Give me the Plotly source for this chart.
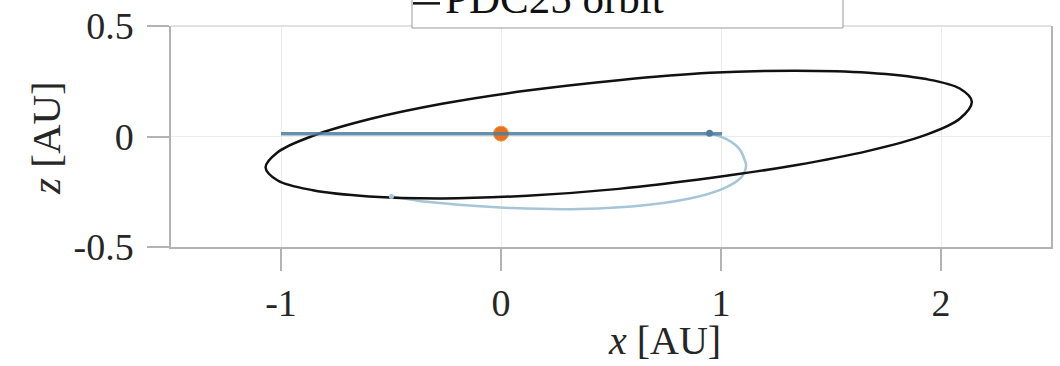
import plotly.graph_objects as go

# ---------------- data ----------------
# PDC25 orbit projected on the x-z plane [AU]
orbit_x = [2.140, 2.085, 1.925, 1.670, 1.338, 0.950, 0.535, 0.120, -0.268, -0.600,
           -0.855, -1.015, -1.070, -1.015, -0.855, -0.600, -0.268, 0.120, 0.535,
           0.950, 1.338, 1.670, 1.925, 2.085, 2.140]
orbit_z = [0.158, 0.217, 0.261, 0.289, 0.298, 0.288, 0.255, 0.208, 0.148, 0.078,
           0.003, -0.071, -0.140, -0.199, -0.243, -0.271, -0.280, -0.268, -0.237,
           -0.188, -0.130, -0.065, 0.005, 0.080, 0.158]

# Earth orbit (edge-on)
earth_x = [-1.000, 1.005]
earth_z = [0.013, 0.013]

# Transfer trajectory (light blue)
traj_x = [0.948, 1.025, 1.084, 1.111, 1.114, 1.093, 1.025, 0.889, 0.661, 0.357,
          0.052, -0.175, -0.370, -0.498]
traj_z = [0.015, -0.012, -0.057, -0.116, -0.133, -0.184, -0.229, -0.274, -0.310,
          -0.328, -0.324, -0.310, -0.292, -0.271]

# Markers
earth_pos = (0.948, 0.015)
arrival_pos = (-0.498, -0.271)
sun_pos = (0.0, 0.013)

x_ticks = [-1, 0, 1, 2]
x_ticktext = ["-1", "0", "1", "2"]
z_ticks = [-0.5, 0, 0.5]
z_ticktext = ["-0.5", "0", "0.5"]

legend_label = "PDC25 orbit"

# ---------------- figure ----------------
FONT = "Liberation Serif"
AXCOL = "#b3b3b3"
TXT = "#262626"

fig = go.Figure()

fig.add_trace(go.Scatter(x=traj_x, y=traj_z, mode="lines",
                         line=dict(color="#a6c6d8", width=2.5, shape="spline"),
                         showlegend=False))
fig.add_trace(go.Scatter(x=orbit_x, y=orbit_z, mode="lines",
                         line=dict(color="#111111", width=2.5, shape="spline"),
                         name=legend_label, showlegend=False))
fig.add_trace(go.Scatter(x=[sun_pos[0]], y=[sun_pos[1]], mode="markers",
                         marker=dict(color="#e8731c", size=15,
                                     line=dict(color="#ef9a55", width=1)),
                         showlegend=False))
fig.add_trace(go.Scatter(x=earth_x, y=earth_z, mode="lines",
                         line=dict(color="rgba(78,125,158,0.85)", width=3.5),
                         showlegend=False))
fig.add_trace(go.Scatter(x=[earth_pos[0]], y=[earth_pos[1]], mode="markers",
                         marker=dict(color="#4f7d9c", size=7),
                         showlegend=False))
fig.add_trace(go.Scatter(x=[arrival_pos[0]], y=[arrival_pos[1]], mode="markers",
                         marker=dict(color="#a6c6d8", size=5),
                         showlegend=False))

fig.update_layout(
    width=1060, height=366,
    margin=dict(l=171, r=9, t=26, b=119),
    paper_bgcolor="white", plot_bgcolor="white",
    font=dict(family=FONT, size=38, color=TXT),
    showlegend=False,
)

fig.update_xaxes(range=[-1.5, 2.5], tickvals=x_ticks, ticktext=x_ticktext,
                 showgrid=True, gridcolor="#ececec", gridwidth=1,
                 zeroline=False, showline=True, linecolor=AXCOL, linewidth=1.5,
                 ticks="outside", ticklen=22, tickcolor=AXCOL, tickwidth=1.5,
                 ticklabelstandoff=0, mirror=False, automargin=False,
                 tickfont=dict(family=FONT, size=38, color=TXT))
fig.update_yaxes(range=[-0.5, 0.5], tickvals=z_ticks, ticktext=z_ticktext,
                 showgrid=True, gridcolor="#ececec", gridwidth=1,
                 zeroline=False, showline=True, linecolor=AXCOL, linewidth=1.5,
                 ticks="outside", ticklen=22, tickcolor=AXCOL, tickwidth=1.5,
                 ticklabelstandoff=6, mirror=True, automargin=False,
                 tickfont=dict(family=FONT, size=38, color=TXT))

# top border of the box (lighter)
fig.add_shape(type="line", xref="paper", yref="paper", x0=0, x1=1, y0=1, y1=1,
              line=dict(color="#e2e2e2", width=2), layer="above")

# legend box (cut off at top of the page, as in the original)
fig.add_shape(type="rect", xref="paper", yref="paper",
              x0=(412 - 171) / 880, x1=(843 - 171) / 880,
              y0=(247.3 - 27.7) / 221.6, y1=1.3,
              line=dict(color="#9a9a9a", width=1), fillcolor="white", layer="above")
fig.add_shape(type="line", xref="paper", yref="paper",
              x0=(413 - 171) / 880, x1=(440 - 171) / 880,
              y0=(247.3 - 3) / 221.6, y1=(247.3 - 3) / 221.6,
              line=dict(color="#111111", width=2.5), layer="above")
fig.add_annotation(text=legend_label, xref="paper", yref="paper",
                   x=(443 - 171) / 880, y=(247.3 - 24) / 221.6,
                   xanchor="left", yanchor="bottom", showarrow=False,
                   font=dict(family=FONT, size=43, color="#111111"))

# axis titles
fig.add_annotation(text="<i>x</i> [AU]", xref="paper", yref="paper",
                   x=(664 - 171) / 880, y=(247.3 - 341) / 221.6,
                   xanchor="center", yanchor="middle", showarrow=False,
                   font=dict(family=FONT, size=40, color=TXT))
fig.add_annotation(text="<i>z</i> [AU]", xref="paper", yref="paper",
                   x=(46 - 171) / 880, y=(247.3 - 138) / 221.6,
                   xanchor="center", yanchor="middle", textangle=-90, showarrow=False,
                   font=dict(family=FONT, size=41, color=TXT))

fig.write_html("out.html")
